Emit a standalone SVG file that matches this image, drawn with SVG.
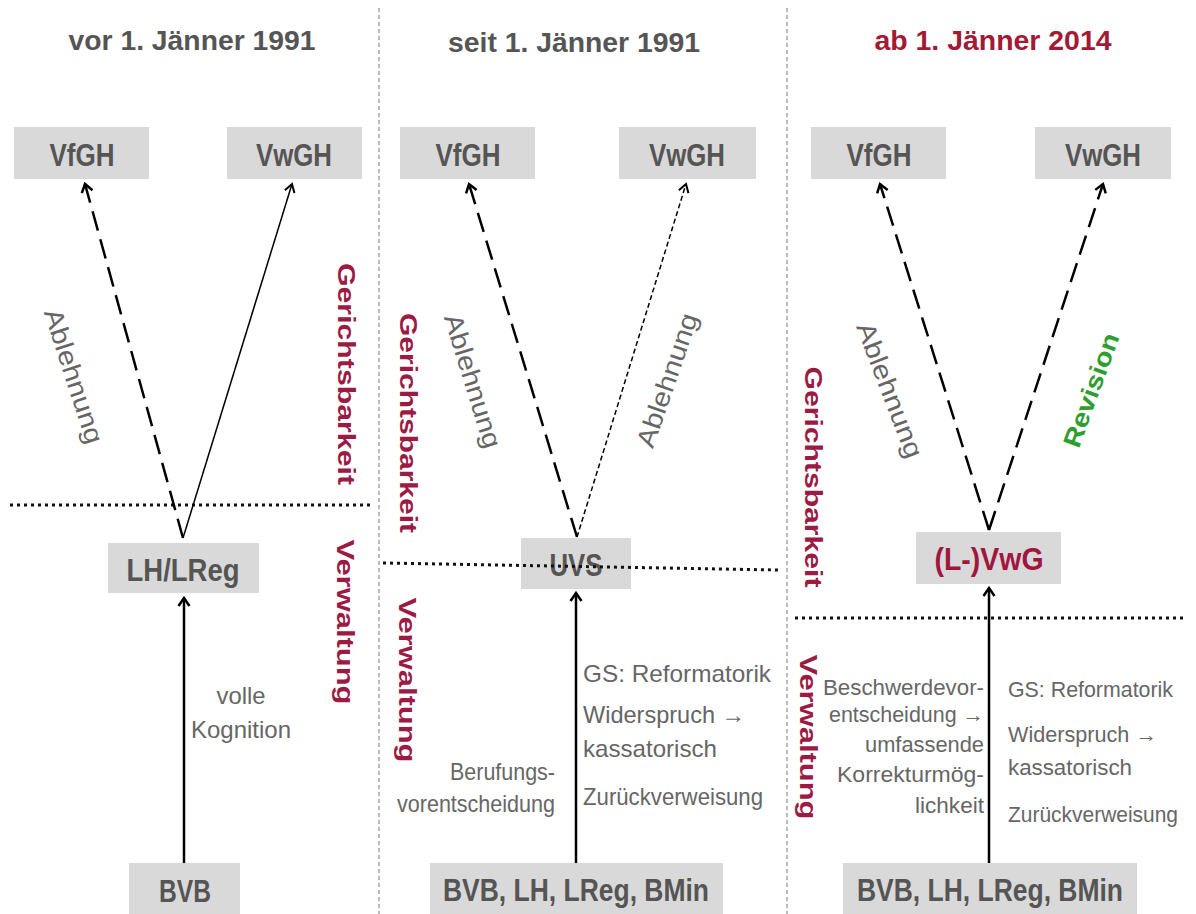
<svg xmlns="http://www.w3.org/2000/svg" width="1196" height="914" viewBox="0 0 1196 914">
<style>
.box{fill:#d9d9d9}
.bt{font-family:"Liberation Sans",Arial,sans-serif;font-weight:bold;font-size:32px;fill:#555;text-anchor:middle}
.title{font-family:"Liberation Sans",Arial,sans-serif;font-weight:bold;font-size:27px;fill:#555;text-anchor:middle}
.body{font-family:"Liberation Sans",Arial,sans-serif;font-size:24px;fill:#666}
.b3{font-size:22px}
.rot{font-family:"Liberation Sans",Arial,sans-serif;font-size:26px;fill:#666;text-anchor:middle}
.lab{font-family:"Liberation Sans",Arial,sans-serif;font-weight:bold;font-size:23px;fill:#9b1b45;text-anchor:middle}
.div{stroke:#777;stroke-width:1;stroke-dasharray:4 3;fill:none}
.dot{stroke:#111;stroke-width:3;stroke-dasharray:3 4;fill:none}
.arr{stroke:#000;stroke-width:2.5;fill:none;marker-end:url(#ah)}
.dash{stroke:#000;stroke-width:2.5;stroke-dasharray:20 9;fill:none;marker-end:url(#ah)}
.fine{stroke:#000;stroke-width:1.5;stroke-dasharray:5 3;fill:none;marker-end:url(#ahs)}
.thin{stroke:#000;stroke-width:1.5;fill:none;marker-end:url(#ahs)}
</style>
<defs>
<marker id="ah" viewBox="-10 -7 12 14" refX="0" refY="0" markerWidth="12" markerHeight="14" orient="auto" markerUnits="userSpaceOnUse"><path d="M-8,-5.5 L0,0 L-8,5.5" fill="none" stroke="#000" stroke-width="2.5"/></marker>
<marker id="ahs" viewBox="-10 -7 12 14" refX="0" refY="0" markerWidth="12" markerHeight="14" orient="auto" markerUnits="userSpaceOnUse"><path d="M-8,-5 L0,0 L-8,5" fill="none" stroke="#000" stroke-width="2"/></marker>
</defs>
<rect width="1196" height="914" fill="#fff"/>

<g id="dividers">
<line class="div" x1="379" y1="8" x2="379" y2="914"/>
<line class="div" x1="787" y1="8" x2="787" y2="914"/>
</g>

<g id="titles">
<text class="title" x="192" y="50" textLength="247" lengthAdjust="spacingAndGlyphs">vor 1. Jänner 1991</text>
<text class="title" x="574" y="52" textLength="252" lengthAdjust="spacingAndGlyphs">seit 1. Jänner 1991</text>
<text class="title" x="993" y="50" textLength="237" lengthAdjust="spacingAndGlyphs" style="fill:#a31a35">ab 1. Jänner 2014</text>
</g>

<g id="connectors">
<line class="dot" x1="10" y1="505" x2="370" y2="505"/>
<line class="dot" x1="795" y1="618" x2="1185" y2="618"/>
<path class="dash" d="M183,538 L85,184"/>
<path class="thin" d="M183,538 L292,184"/>
<path class="arr" d="M184,863 L184,598"/>
<path class="dash" d="M577,537 L469,184"/>
<path class="fine" d="M577,537 L686,184"/>
<path class="arr" d="M576,863 L576,593"/>
<path class="dash" d="M989,530 L880,184"/>
<path class="dash" d="M989,530 L1103,184"/>
<path class="arr" d="M989,863 L989,588"/>
</g>

<g id="c1-vfgh"><rect class="box" x="14" y="127" width="135" height="52"/><text class="bt" x="82" y="166" textLength="65" lengthAdjust="spacingAndGlyphs">VfGH</text></g>
<g id="c1-vwgh"><rect class="box" x="227" y="127" width="135" height="52"/><text class="bt" x="294" y="166" textLength="76" lengthAdjust="spacingAndGlyphs">VwGH</text></g>
<g id="c1-lh"><rect class="box" x="108" y="543" width="151" height="50"/><text class="bt" x="183" y="581" textLength="113" lengthAdjust="spacingAndGlyphs">LH/LReg</text></g>
<g id="c1-bvb"><rect class="box" x="129" y="863" width="111" height="51"/><text class="bt" x="185" y="902" textLength="52" lengthAdjust="spacingAndGlyphs">BVB</text></g>

<g id="c2-vfgh"><rect class="box" x="400" y="127" width="135" height="52"/><text class="bt" x="468" y="166" textLength="65" lengthAdjust="spacingAndGlyphs">VfGH</text></g>
<g id="c2-vwgh"><rect class="box" x="619" y="127" width="137" height="52"/><text class="bt" x="687" y="166" textLength="76" lengthAdjust="spacingAndGlyphs">VwGH</text></g>
<g id="c2-uvs"><rect class="box" x="521" y="538" width="110" height="51"/><text class="bt" x="576" y="576" textLength="53" lengthAdjust="spacingAndGlyphs">UVS</text></g>
<g id="c2-bottom"><rect class="box" x="430" y="863" width="293" height="51"/><text class="bt" x="576" y="901" textLength="266" lengthAdjust="spacingAndGlyphs">BVB, LH, LReg, BMin</text></g>
<g id="c2-divline"><line class="dot" x1="383" y1="563" x2="778" y2="570"/></g>

<g id="c3-vfgh"><rect class="box" x="811" y="127" width="135" height="52"/><text class="bt" x="879" y="166" textLength="65" lengthAdjust="spacingAndGlyphs">VfGH</text></g>
<g id="c3-vwgh"><rect class="box" x="1035" y="127" width="136" height="52"/><text class="bt" x="1103" y="166" textLength="76" lengthAdjust="spacingAndGlyphs">VwGH</text></g>
<g id="c3-vwg"><rect class="box" x="916" y="532" width="145" height="52"/><text class="bt" x="989" y="570" textLength="109" lengthAdjust="spacingAndGlyphs" style="fill:#a0163f">(L-)VwG</text></g>
<g id="c3-bottom"><rect class="box" x="843" y="863" width="294" height="51"/><text class="bt" x="990" y="901" textLength="266" lengthAdjust="spacingAndGlyphs">BVB, LH, LReg, BMin</text></g>

<g id="labels">
<text class="rot" x="74" y="376" dy="0.35em" transform="rotate(72 74 376)" textLength="140" lengthAdjust="spacingAndGlyphs">Ablehnung</text>
<text class="rot" x="473" y="381" dy="0.35em" transform="rotate(72.7 473 381)" textLength="139" lengthAdjust="spacingAndGlyphs">Ablehnung</text>
<text class="rot" x="667" y="380" dy="0.35em" transform="rotate(-71 667 380)" textLength="140" lengthAdjust="spacingAndGlyphs">Ablehnung</text>
<text class="rot" x="890" y="390" dy="0.35em" transform="rotate(69 890 390)" textLength="143" lengthAdjust="spacingAndGlyphs">Ablehnung</text>
<text class="lab" x="1091" y="390" dy="0.35em" transform="rotate(-70 1091 390)" textLength="120" lengthAdjust="spacingAndGlyphs" style="fill:#2e9e2e;font-size:25px">Revision</text>

<text class="lab" x="346" y="374" dy="0.35em" transform="rotate(90 346 374)" textLength="222" lengthAdjust="spacingAndGlyphs">Gerichtsbarkeit</text>
<text class="lab" x="345" y="622" dy="0.35em" transform="rotate(90 345 622)" textLength="165" lengthAdjust="spacingAndGlyphs">Verwaltung</text>
<text class="lab" x="408" y="423" dy="0.35em" transform="rotate(90 408 423)" textLength="220" lengthAdjust="spacingAndGlyphs">Gerichtsbarkeit</text>
<text class="lab" x="407" y="680" dy="0.35em" transform="rotate(90 407 680)" textLength="165" lengthAdjust="spacingAndGlyphs">Verwaltung</text>
<text class="lab" x="813" y="477" dy="0.35em" transform="rotate(90 813 477)" textLength="221" lengthAdjust="spacingAndGlyphs">Gerichtsbarkeit</text>
<text class="lab" x="808" y="737" dy="0.35em" transform="rotate(90 808 737)" textLength="165" lengthAdjust="spacingAndGlyphs">Verwaltung</text>

<text class="body" x="241" y="704" text-anchor="middle" textLength="49" lengthAdjust="spacingAndGlyphs">volle</text>
<text class="body" x="241" y="738" text-anchor="middle" textLength="100" lengthAdjust="spacingAndGlyphs">Kognition</text>

<text class="body" x="555" y="780" text-anchor="end" textLength="105" lengthAdjust="spacingAndGlyphs">Berufungs-</text>
<text class="body" x="555" y="812" text-anchor="end" textLength="158" lengthAdjust="spacingAndGlyphs">vorentscheidung</text>
<text class="body" x="583" y="682" textLength="188" lengthAdjust="spacingAndGlyphs">GS: Reformatorik</text>
<text class="body" x="583" y="723" textLength="162" lengthAdjust="spacingAndGlyphs">Widerspruch →</text>
<text class="body" x="583" y="757" textLength="134" lengthAdjust="spacingAndGlyphs">kassatorisch</text>
<text class="body" x="583" y="805" textLength="180" lengthAdjust="spacingAndGlyphs">Zurückverweisung</text>

<text class="body b3" x="984" y="695" text-anchor="end" textLength="161" lengthAdjust="spacingAndGlyphs">Beschwerdevor-</text>
<text class="body b3" x="984" y="722" text-anchor="end" textLength="155" lengthAdjust="spacingAndGlyphs">entscheidung →</text>
<text class="body b3" x="984" y="752" text-anchor="end" textLength="119" lengthAdjust="spacingAndGlyphs">umfassende</text>
<text class="body b3" x="984" y="782" text-anchor="end" textLength="147" lengthAdjust="spacingAndGlyphs">Korrekturmög-</text>
<text class="body b3" x="984" y="813" text-anchor="end" textLength="69" lengthAdjust="spacingAndGlyphs">lichkeit</text>
<text class="body b3" x="1008" y="697" textLength="165" lengthAdjust="spacingAndGlyphs">GS: Reformatorik</text>
<text class="body b3" x="1008" y="742" textLength="149" lengthAdjust="spacingAndGlyphs">Widerspruch →</text>
<text class="body b3" x="1008" y="775" textLength="124" lengthAdjust="spacingAndGlyphs">kassatorisch</text>
<text class="body b3" x="1008" y="822" textLength="170" lengthAdjust="spacingAndGlyphs">Zurückverweisung</text>
</g>
</svg>
